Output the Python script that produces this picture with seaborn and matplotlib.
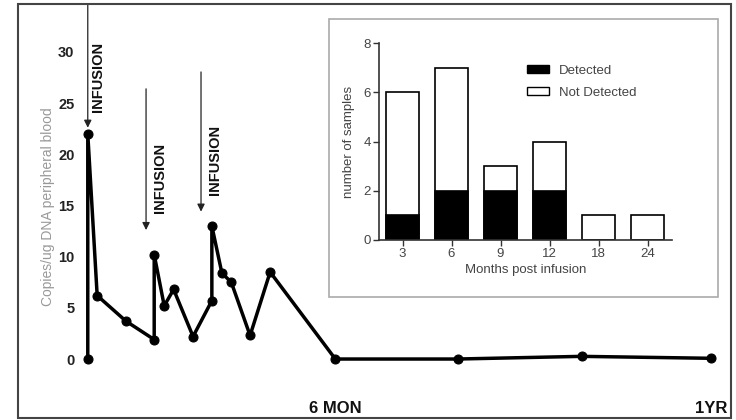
import numpy as np
import pandas as pd
import matplotlib
matplotlib.use("Agg")
import matplotlib.pyplot as plt
from matplotlib.patches import Rectangle, Patch
import seaborn as sns

# ===============================
# Data
# ===============================
# main time course (x in months, y in copies/ug DNA)
months = [2.05, 2.05, 2.20, 2.66, 3.11, 3.11, 3.27, 3.42, 3.73, 4.03, 4.03,
          4.19, 4.34, 4.64, 4.96, 6.0, 7.95, 9.93, 12.0]
copies = [0.0, 22.0, 6.2, 3.7, 1.9, 10.2, 5.2, 6.8, 2.2, 5.7, 13.0,
          8.4, 7.5, 2.3, 8.5, 0.0, 0.0, 0.26, 0.07]

xtick_pos = [6, 12]
xtick_labels = ["6 MON", "1YR"]
yticks_main = [0, 5, 10, 15, 20, 25, 30]

# infusion arrows (x, arrow top, arrow tip)
infusion_x = [2.05, 2.98, 3.857]
infusion_top = [34.7, 26.4, 28.05]
infusion_tip = [22.6, 12.6, 14.4]
infusion_text_x = [2.22, 3.20, 4.08]
infusion_text_y = [27.6, 17.7, 19.45]

# inset bar chart
inset_months = ["3", "6", "9", "12", "18", "24"]
detected = [1, 2, 2, 2, 0, 0]
not_detected = [5, 5, 1, 2, 1, 1]
total = [d + n for d, n in zip(detected, not_detected)]

# ===============================
# Style
# ===============================
sns.set_style("white")
plt.rcParams["font.family"] = ["Liberation Sans", "DejaVu Sans"]

W, H = 736, 420
fig = plt.figure(figsize=(7.36, 4.2), dpi=100)

def fx(px):
    return px / W

def fy(py):
    return (H - py) / H

# outer frame
fig.patches.append(Rectangle((fx(18), fy(418)), fx(731) - fx(18), fy(4) - fy(418),
                             transform=fig.transFigure, fill=False,
                             edgecolor="#444444", linewidth=1.5, zorder=5))

# ===============================
# Main time course
# ===============================
ax = fig.add_axes([fx(80), fy(380), fx(725) - fx(80), fy(4) - fy(380)])
ax.set_facecolor("none")
df = pd.DataFrame({"month": months, "copies": copies})
sns.lineplot(data=df, x="month", y="copies", sort=False, estimator=None,
             color="black", linewidth=2.5, marker="o", markersize=6.5,
             markeredgecolor="black", ax=ax)

ax.set_xlim(1.926, 12.218)
ax.set_ylim(-2.05, 34.69)
for s in ax.spines.values():
    s.set_visible(False)

ax.set_xticks(xtick_pos)
ax.set_xticklabels(xtick_labels, fontsize=12, fontweight="bold", color="#111111")
ax.set_yticks(yticks_main)
ax.set_yticklabels([str(v) for v in yticks_main], fontsize=10.5,
                   fontweight="bold", color="#222222")
ax.tick_params(axis="x", length=0, pad=15)
ax.tick_params(axis="y", length=0, pad=4)
ax.set_xlabel("")
ax.set_ylabel("Copies/ug DNA peripheral blood", fontsize=10, color="#999999")
ax.yaxis.set_label_coords(-0.038, 0.46)

for x0, ytop, ytip, tx, ty in zip(infusion_x, infusion_top, infusion_tip,
                                  infusion_text_x, infusion_text_y):
    ax.annotate("", xy=(x0, ytip), xytext=(x0, ytop), annotation_clip=False,
                arrowprops=dict(arrowstyle="-|>", lw=0.9, color="#222222",
                                mutation_scale=11, shrinkA=0, shrinkB=0))
    ax.text(tx, ty, "INFUSION", rotation=90, ha="center", va="center",
            fontsize=10.5, fontweight="bold", color="#111111")

# ===============================
# Inset bar chart
# ===============================
fig.patches.append(Rectangle((fx(329), fy(297)), fx(718) - fx(329), fy(19) - fy(297),
                             transform=fig.transFigure, fill=False,
                             edgecolor="#aaaaaa", linewidth=1.2, zorder=5))

ax2 = fig.add_axes([fx(379), fy(240), fx(672) - fx(379), fy(43.3) - fy(240)])
sns.barplot(x=inset_months, y=total, order=inset_months, color="white",
            edgecolor="black", linewidth=1.2, width=0.667, saturation=1, ax=ax2)
sns.barplot(x=inset_months, y=detected, order=inset_months, color="black",
            edgecolor="black", linewidth=1.2, width=0.667, saturation=1, ax=ax2)

ax2.set_xlim(-0.48, 5.5)
ax2.set_ylim(0, 8)
ax2.set_yticks([0, 2, 4, 6, 8])
sns.despine(ax=ax2)
for s in ["left", "bottom"]:
    ax2.spines[s].set_color("#333333")
    ax2.spines[s].set_linewidth(1.2)
ax2.tick_params(axis="both", direction="out", length=4, width=1,
                color="#333333", labelsize=9.5, labelcolor="#444444", pad=2,
                left=True, bottom=True)
ax2.set_xlabel("Months post infusion", fontsize=9.5, color="#444444", labelpad=3)
ax2.set_ylabel("number of samples", fontsize=9.5, color="#444444", labelpad=6)

handles = [Patch(facecolor="black", edgecolor="black", label="Detected"),
           Patch(facecolor="white", edgecolor="black", label="Not Detected")]
leg = ax2.legend(handles=handles, loc="upper left", bbox_to_anchor=(0.481, 0.925),
                 frameon=False, borderpad=0, handlelength=1.67, handleheight=0.6,
                 handletextpad=0.76, labelspacing=0.75, fontsize=9.5)
for t in leg.get_texts():
    t.set_color("#444444")

plt.savefig("out.png", dpi=100)
